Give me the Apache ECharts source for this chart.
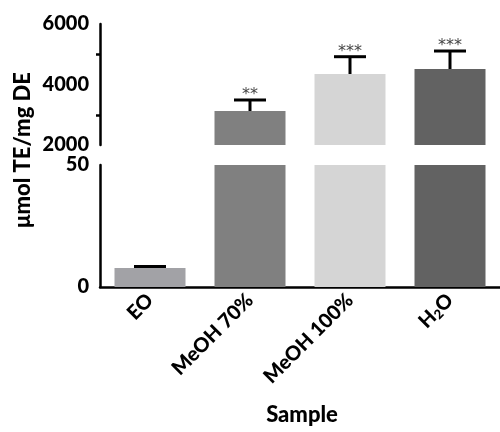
<!DOCTYPE html>
<html>
<head>
    <meta charset="utf-8">
    <title>ECharts</title>
    <script src="https://cdn.jsdelivr.net/npm/echarts@6/dist/echarts.min.js"></script>
</head>
<body style="margin:0">
    <div id="main" style="width: 500px;height:432px;"></div>
    <script type="text/javascript">
    // data
    var categories = ['EO', 'MeOH 70%', 'MeOH 100%', 'H2O'];
    var means = [7.8, 3124, 4347, 4512];
    var upper = [8.4, 3488, 4919, 5107];
    var stars = ['', '**', '***', '***'];
    var colors = ['#a2a2a6', '#808080', '#d5d5d5', '#626262'];

    var upperTicks = [2000, 6000, 2000]; // min, max, interval
    var lowerTicks = [0, 50, 50];

    var font = 'Lato, "DejaVu Sans", sans-serif';

    function barData(minV) {
        return means.map(function (v, i) {
            return {value: v < minV ? '-' : v, itemStyle: {color: colors[i]}};
        });
    }

    function errData(gridIdx) {
        var out = [];
        for (var i = 0; i < categories.length; i++) {
            var inLower = means[i] <= lowerTicks[1];
            if ((gridIdx === 1) === inLower) out.push([i, means[i], upper[i]]);
        }
        return out;
    }

    function renderErr(params, api) {
        var i = api.value(0);
        var p0 = api.coord([i, api.value(1)]);
        var p1 = api.coord([i, api.value(2)]);
        var half = 16;
        var children = [
            {type: 'line', shape: {x1: p0[0], y1: p0[1], x2: p1[0], y2: p1[1]},
             style: {stroke: '#000', lineWidth: 3}},
            {type: 'line', shape: {x1: p1[0] - half, y1: p1[1], x2: p1[0] + half, y2: p1[1]},
             style: {stroke: '#000', lineWidth: 3}}
        ];
        if (stars[i]) {
            children.push({type: 'text', x: p1[0], y: p1[1] + 3,
                style: {text: stars[i], align: 'center', verticalAlign: 'bottom',
                        font: '16px "DejaVu Sans", sans-serif', fill: '#444'}});
        }
        return {type: 'group', children: children};
    }

    var axisLine = {show: true, lineStyle: {color: '#000', width: 2.5}};
    var yLabel = {fontFamily: font, fontWeight: 900, fontSize: 20, color: '#000', margin: 11,
                  formatter: function (v) { return String(v); }};

    var myChart = echarts.init(document.getElementById('main'));

    var option = {
        animation: false,
        grid: [
            {left: 100, width: 400, top: 24, height: 121},
            {left: 100, width: 400, top: 165, height: 122}
        ],
        xAxis: [
            {type: 'category', gridIndex: 0, data: categories, show: false},
            {type: 'category', gridIndex: 1, data: categories,
             axisLine: axisLine,
             axisTick: {alignWithLabel: true, length: 7, lineStyle: {width: 2.5, color: '#000'}},
             axisLabel: {rotate: 45, interval: 0, margin: 10, fontFamily: font, fontWeight: 900,
                         fontSize: 20, color: '#000',
                         formatter: function (v) { return v === 'H2O' ? '{a|H}{s|2}{a|O}' : v; },
                         rich: {
                             a: {fontFamily: font, fontWeight: 900, fontSize: 20, color: '#000'},
                             s: {fontFamily: font, fontSize: 13, color: '#000', padding: [9, 0, 0, 0]}
                         }}}
        ],
        yAxis: [
            {type: 'value', gridIndex: 0, min: upperTicks[0], max: upperTicks[1], interval: upperTicks[2],
             axisLine: axisLine, splitLine: {show: false},
             axisTick: {length: 7, lineStyle: {width: 2.5, color: '#000'}},
             minorTick: {show: true, splitNumber: 2, length: 4, lineStyle: {width: 2.5, color: '#000'}},
             axisLabel: yLabel},
            {type: 'value', gridIndex: 1, min: lowerTicks[0], max: lowerTicks[1], interval: lowerTicks[2],
             axisLine: axisLine, splitLine: {show: false},
             axisTick: {length: 7, lineStyle: {width: 2.5, color: '#000'}},
             axisLabel: yLabel}
        ],
        series: [
            {type: 'bar', xAxisIndex: 0, yAxisIndex: 0, barWidth: 71, clip: true,
             data: barData(upperTicks[0])},
            {type: 'bar', xAxisIndex: 1, yAxisIndex: 1, barWidth: 71, clip: true,
             data: barData(-1)},
            {type: 'custom', xAxisIndex: 0, yAxisIndex: 0, renderItem: renderErr,
             data: errData(0), z: 5, clip: false},
            {type: 'custom', xAxisIndex: 1, yAxisIndex: 1, renderItem: renderErr,
             data: errData(1), z: 5, clip: false}
        ],
        graphic: [
            {type: 'text', x: 23, y: 150, rotation: Math.PI / 2,
             style: {text: 'μmol TE/mg DE', align: 'center', verticalAlign: 'middle',
                     font: '900 22px ' + font, fill: '#000'}},
            {type: 'text', x: 302, y: 415,
             style: {text: 'Sample', align: 'center', verticalAlign: 'middle',
                     font: '900 22px ' + font, fill: '#000'}}
        ]
    };

    myChart.setOption(option);
    </script>
</body>
</html>
